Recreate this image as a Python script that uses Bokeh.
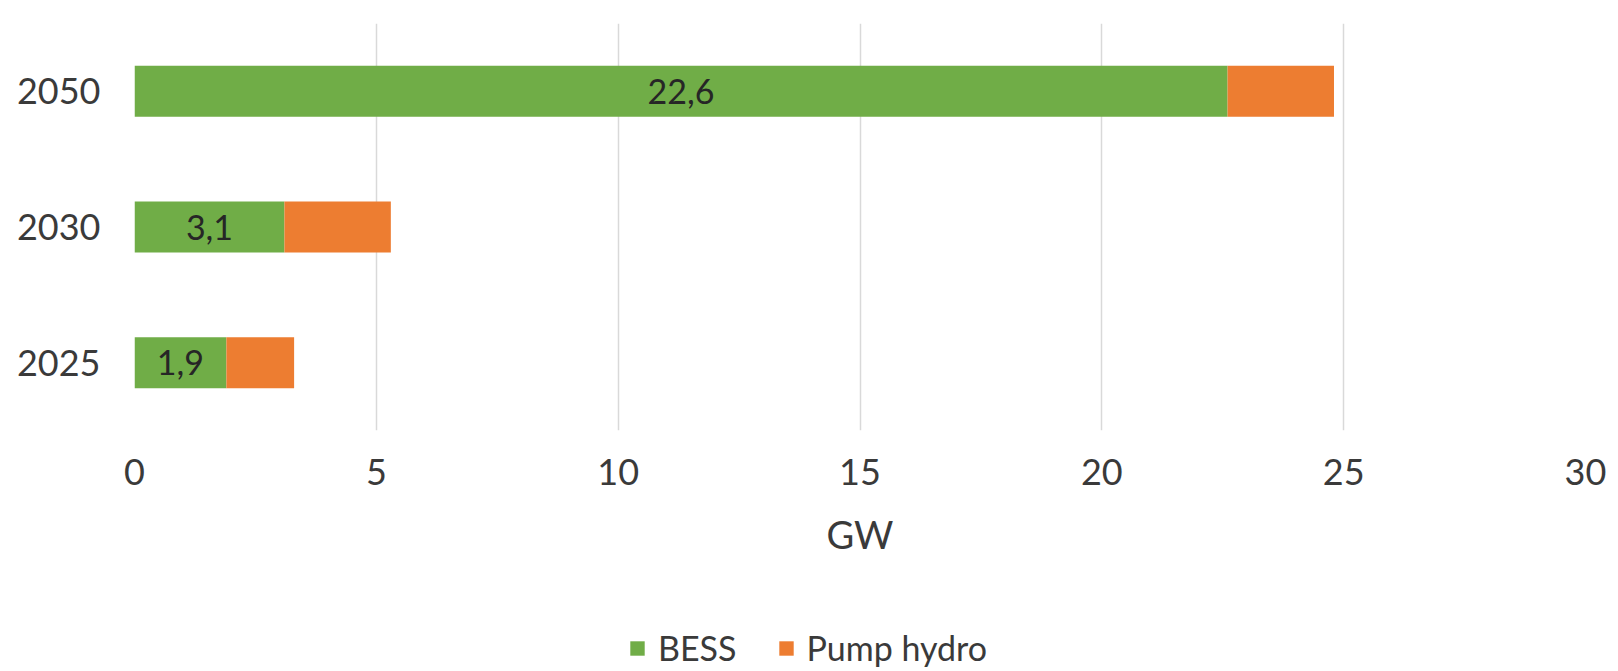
from bokeh.plotting import figure
from bokeh.layouts import column
from bokeh.models import ColumnDataSource, Legend, LegendItem, FixedTicker, Range1d, FactorRange
from bokeh.core.properties import value
from bokeh.embed import file_html
from bokeh.resources import INLINE

years = ["2025", "2030", "2050"]
bess = [1.9, 3.1, 22.6]
pump_hydro = [1.4, 2.2, 2.2]
bess_labels = ["1,9", "3,1", "22,6"]
x_ticks = [0, 5, 10, 15, 20, 25, 30]
series_names = ["BESS", "Pump hydro"]
series_colors = ["#70AD47", "#ED7D31"]

FONT = "Lato"
TXT = "#3a3a3a"

src = ColumnDataSource(dict(
    year=years, BESS=bess, Pump=pump_hydro,
    mid=[b / 2 for b in bess], lab=bess_labels,
))

p = figure(width=1610, height=575, y_range=FactorRange(*years, range_padding=0),
           x_range=Range1d(0, 30), output_backend="svg", toolbar_location=None,
           min_border_left=134, min_border_right=25, min_border_top=23,
           min_border_bottom=145)
p.outline_line_color = None

r = p.hbar_stack(["BESS", "Pump"], y="year", height=0.376, source=src,
                 color=series_colors, line_color=None)

p.text(x="mid", y="year", text="lab", source=src, text_align="center",
       text_baseline="middle", text_font=value(FONT), text_font_size="34px",
       text_color="#262626")

p.xaxis.ticker = FixedTicker(ticks=x_ticks)
p.xgrid.ticker = FixedTicker(ticks=x_ticks)
p.xgrid.grid_line_color = "#D9D9D9"
p.xgrid.grid_line_width = 1.5
p.ygrid.grid_line_color = None
for ax in (p.xaxis, p.yaxis):
    ax.axis_line_color = None
    ax.major_tick_line_color = None
    ax.minor_tick_line_color = None
    ax.major_label_text_font = FONT
    ax.major_label_text_font_size = "36px"
    ax.major_label_text_color = TXT
    ax.major_label_text_font_style = "normal"
p.xaxis.major_label_standoff = 22
p.yaxis.major_label_standoff = 28
p.xaxis.axis_label = "GW"
p.xaxis.axis_label_text_font = FONT
p.xaxis.axis_label_text_font_size = "38px"
p.xaxis.axis_label_text_font_style = "normal"
p.xaxis.axis_label_text_color = TXT
p.xaxis.axis_label_standoff = 23

# legend strip below the chart; its proxy bars are zero-height and off-range
p2 = figure(width=1610, height=96, x_range=Range1d(-31, -1),
            y_range=FactorRange(*years), output_backend="svg",
            toolbar_location=None, min_border=0)
p2.outline_line_color = None
p2.axis.visible = False
p2.grid.visible = False
r2 = p2.hbar_stack(["BESS", "Pump"], y="year", height=0.0, source=src,
                   color=series_colors, line_color=None)

legend = Legend(items=[LegendItem(label=series_names[0], renderers=[r2[0]]),
                       LegendItem(label=series_names[1], renderers=[r2[1]])],
                orientation="horizontal", location=(494, 3),
                label_text_font=FONT, label_text_font_size="34px",
                label_text_color=TXT, glyph_width=18, glyph_height=18,
                spacing=40, label_standoff=12, border_line_color=None,
                background_fill_alpha=0, margin=0, padding=0)
p2.add_layout(legend, "center")

layout = column(p, p2, spacing=0)
open("out.html", "w").write(file_html(layout, INLINE))
